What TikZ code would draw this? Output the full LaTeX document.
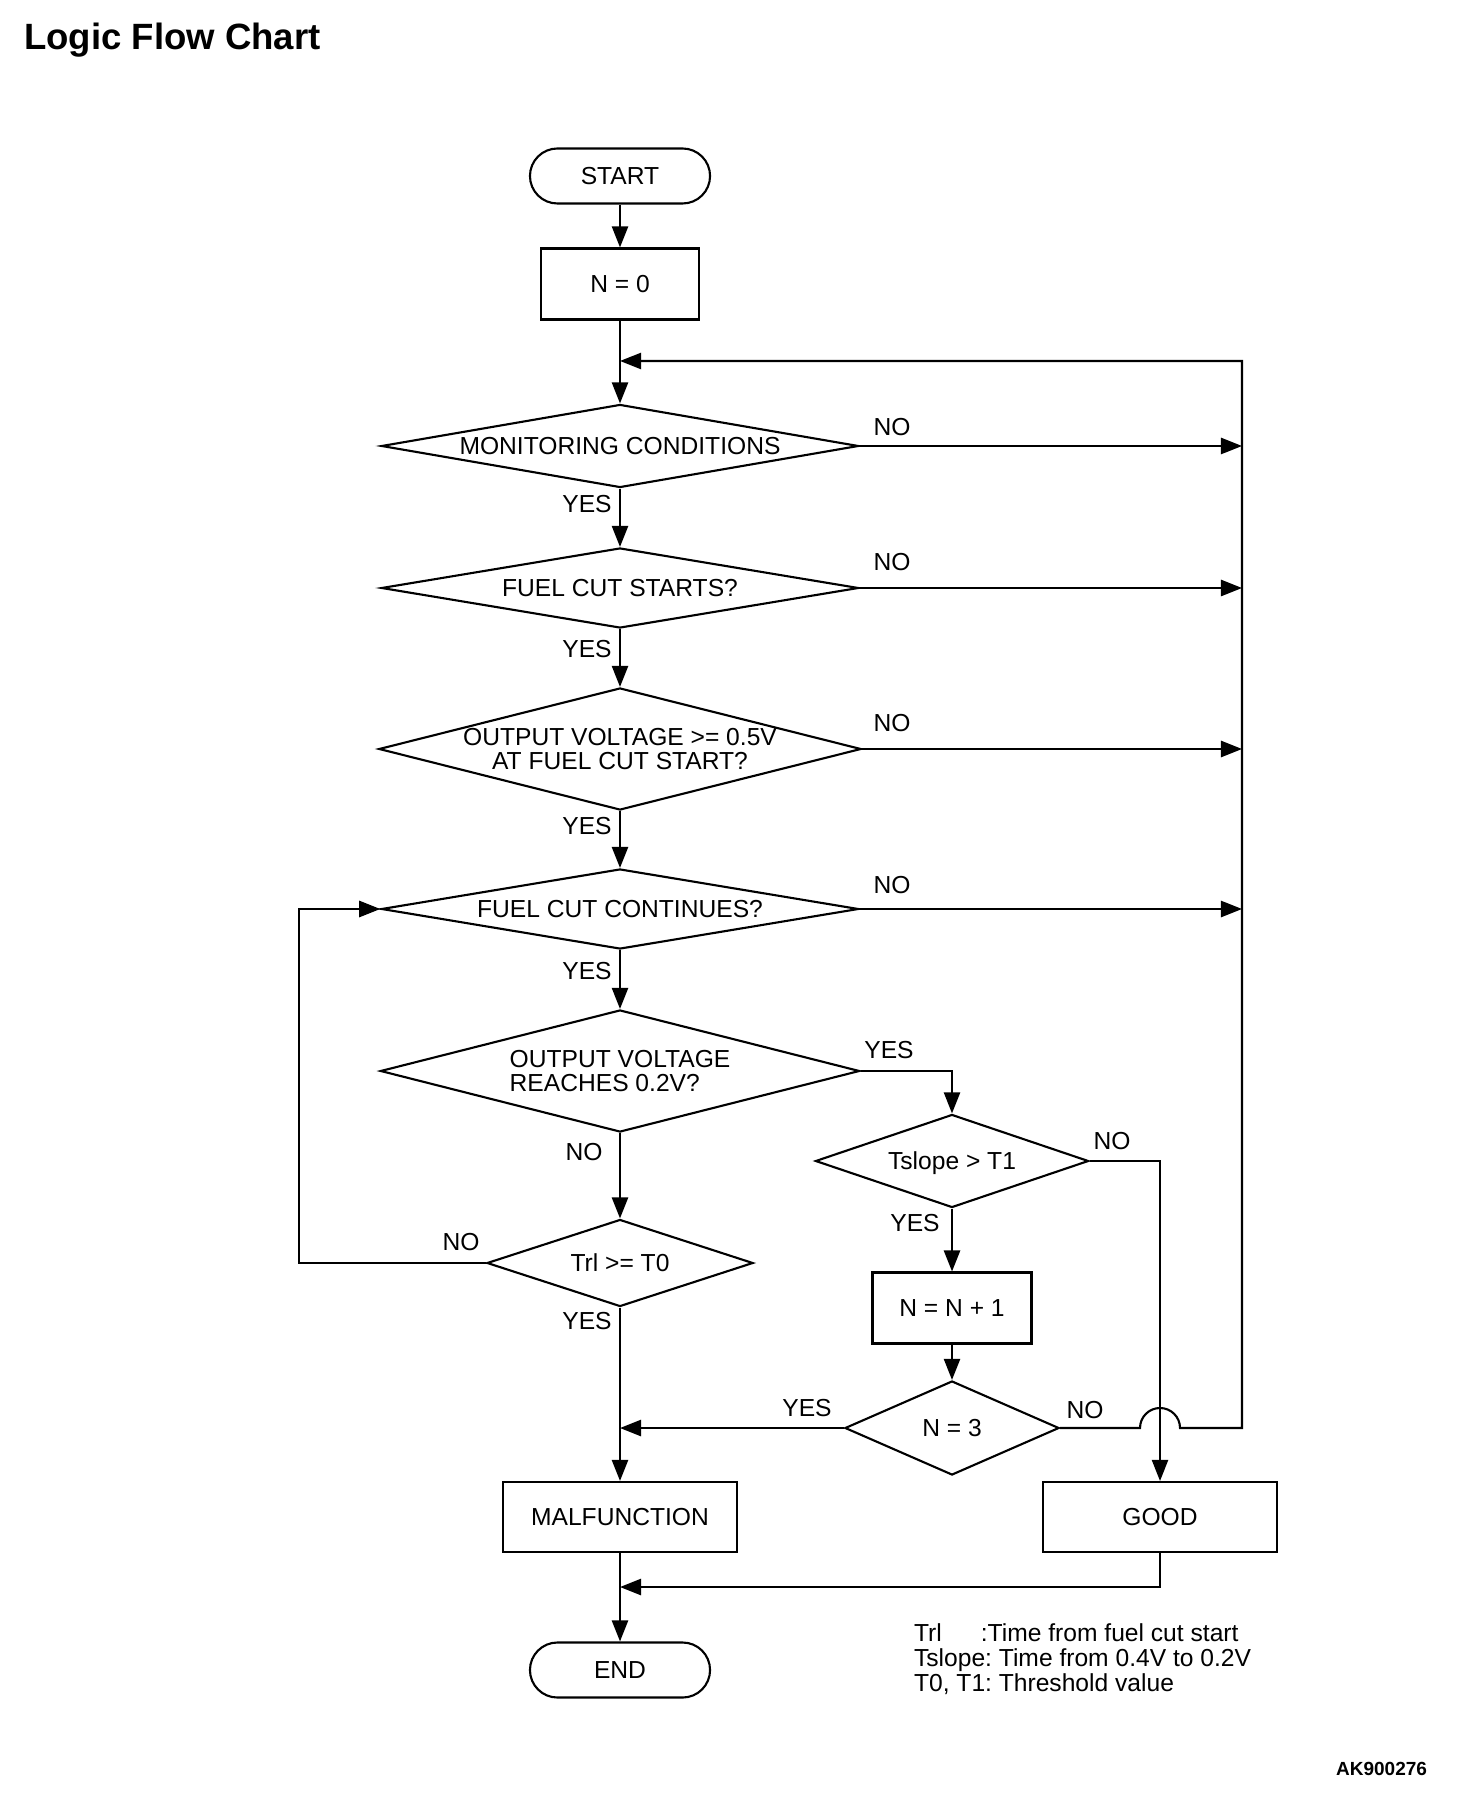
\documentclass[tikz,border=0pt]{standalone}
\usepackage{fontspec}
\setmainfont{Liberation Sans}
\usetikzlibrary{shapes.geometric,arrows.meta}
\frenchspacing

\begin{document}
\begin{tikzpicture}[
    x=0.01cm, y=-0.01cm,
    font=\fontsize{7}{6.8}\selectfont,
    line width=0.6pt,
    terminal/.style={draw, rounded corners=0.275cm, minimum width=1.8cm, minimum height=0.55cm, inner sep=0pt},
    process/.style={draw, minimum width=#1, minimum height=0.7cm, inner sep=0pt},
    decision/.style={diamond, draw, inner sep=-20pt},
    arr/.style={-{Triangle[length=6pt,width=4.6pt]}},
    lbl/.style={inner sep=0pt}
]
\useasboundingbox (0,0) rectangle (1456,1798);

\node[lbl, anchor=base west, font=\bfseries\fontsize{10.4}{12}\selectfont] (title) at (23,50) {Logic Flow Chart};

% main column
\node[terminal] (start) at (620,176) {START};
\node[process=1.58cm, minimum height=0.71cm] (init) at (620,284) {N = 0};
\node[decision, minimum width=4.77cm, minimum height=0.83cm] (mon) at (620,446) {MONITORING CONDITIONS};
\node[decision, minimum width=4.77cm, minimum height=0.80cm] (fstart) at (620,588) {FUEL CUT STARTS?};
\node[decision, minimum width=4.82cm, minimum height=1.22cm, align=center] (volt) at (620,749) {OUTPUT VOLTAGE >= 0.5V\\AT FUEL CUT START?};
\node[decision, minimum width=4.77cm, minimum height=0.80cm] (cont) at (620,909) {FUEL CUT CONTINUES?};
\node[decision, minimum width=4.79cm, minimum height=1.22cm, align=left] (reach) at (620,1071) {OUTPUT VOLTAGE\\REACHES 0.2V?};
\node[decision, minimum width=2.66cm, minimum height=0.87cm] (trl) at (620,1263) {Trl >= T0};
\node[process=2.34cm] (malf) at (620,1517) {MALFUNCTION};
\node[terminal] (end) at (620,1670) {END};

% right column
\node[decision, minimum width=2.73cm, minimum height=0.93cm, text depth=0pt] (tslope) at (952,1161) {Tslope > T1};
\node[process=1.59cm, line width=0.85pt] (incr) at (952,1308) {N = N + 1};
\node[decision, minimum width=2.14cm, minimum height=0.94cm] (ncheck) at (952,1428) {N = 3};
\node[process=2.34cm] (good) at (1160,1517) {GOOD};

\coordinate (railtop) at (1242,361);
\coordinate (loopin) at (620,361);
\coordinate (leftloop) at (299,909);
\coordinate (merge) at (620,1587);
\coordinate (hop) at (ncheck.east -| good.north);

\draw[arr] (start) -- (init);
\draw[arr] (init) -- (mon);
\draw[arr] (mon) -- (fstart);
\draw[arr] (fstart) -- (volt);
\draw[arr] (volt) -- (cont);
\draw[arr] (cont) -- (reach);
\draw[arr] (reach) -- (trl);
\draw[arr] (trl) -- (malf);
\draw[arr] (malf) -- (end);
\draw[arr] (tslope) -- (incr);
\draw[arr] (incr) -- (ncheck);

\foreach \n in {mon,fstart,volt,cont}
    \draw[arr] (\n.east) -- (\n.east -| railtop);

\draw[arr] (reach.east) -| (tslope.north);
\draw[arr] (tslope.east) -| (good.north);
\draw[arr] (trl.west) -| (leftloop) -- (cont.west);
\draw[arr] (ncheck.west) -- (ncheck.west -| trl.south);
\draw[arr] (ncheck.east) -- ([xshift=-0.2cm]hop) arc[start angle=180, end angle=0, radius=0.2cm]
    -- (hop -| railtop) |- (loopin);
\draw[arr] (good.south) |- (merge);

% labels
\foreach \y [count=\i] in {427,562,723,885}
    \node[lbl] (no\i) at (892,\y) {NO};
\foreach \y [count=\i] in {504,649,826,971}
    \node[lbl] (yes\i) at (587,\y) {YES};
\node[lbl] (yes5) at (889,1050) {YES};
\node[lbl] (no5) at (584,1152) {NO};
\node[lbl] (no6) at (1112,1141) {NO};
\node[lbl] (yes6) at (915,1223) {YES};
\node[lbl] (no7) at (461,1242) {NO};
\node[lbl] (yes7) at (587,1321) {YES};
\node[lbl] (yes8) at (807,1408) {YES};
\node[lbl] (no8) at (1085,1410) {NO};

\node[lbl, anchor=west, align=left, font=\fontsize{7}{7.2}\selectfont] (legend) at (913,1659)
    {\makebox[19pt][l]{Trl}:Time from fuel cut start\\Tslope: Time from 0.4V to 0.2V\\T0, T1: Threshold value};

\node[lbl, anchor=base east, font=\bfseries\fontsize{5.4}{7}\selectfont] (code) at (1428,1775) {AK900276};
\end{tikzpicture}
\end{document}
